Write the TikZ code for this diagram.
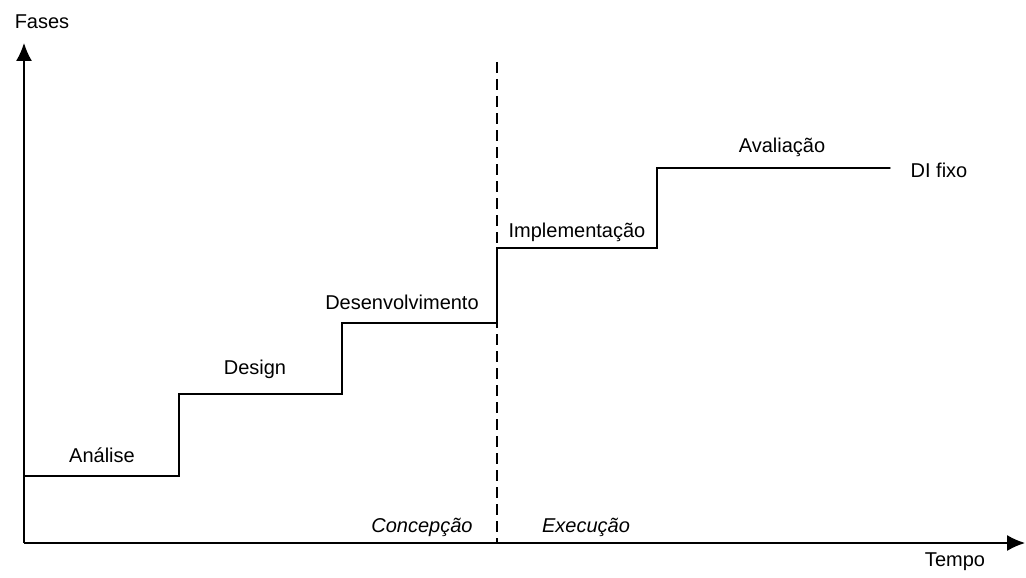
\documentclass[tikz,border=0pt]{standalone}
\usepackage{fontspec}
\setmainfont{Liberation Sans}
\usepackage{tikz}
\usetikzlibrary{arrows.meta}
\tikzstyle{Axis}=[draw=black,line width=1.4pt,-{Latex[length=18pt,width=16pt]}]
\tikzstyle{Edge}=[draw=black,line width=1.4pt,line cap=round,line join=miter]
\tikzstyle{Split}=[draw=black,line width=1.3pt,dash pattern=on 11pt off 6pt]
\tikzstyle{Phase}=[font=\fontsize{20}{24}\selectfont,inner sep=0pt]
\tikzstyle{Period}=[font=\fontsize{20}{24}\selectfont\itshape,inner sep=0pt]

\begin{document}
\begin{tikzpicture}[x=1pt,y=-1pt]
        \useasboundingbox (0,0) rectangle (1026,578);
        % axes
        \coordinate(O)at(24,543);
        \coordinate(yTop)at(24,43);
        \coordinate(xEnd)at(1025,543);
        \draw[Axis](O)--(yTop);
        \draw[Axis](O)--(xEnd);
        \node[Phase](fases)at(42,22){Fases};
        \node[Phase](tempo)at(955,562){Tempo};
        % staircase
        \coordinate(s0)at(24,476);
        \coordinate(s1)at(179,476);
        \coordinate(s2)at(179,394);
        \coordinate(s3)at(342,394);
        \coordinate(s4)at(342,323);
        \coordinate(s5)at(497,323);
        \coordinate(s6)at(497,248);
        \coordinate(s7)at(657,248);
        \coordinate(s8)at(657,168);
        \coordinate(s9)at(890,168);
        \draw[Edge](s0)--(s1)--(s2)--(s3)--(s4)--(s5)--(s6)--(s7)--(s8)--(s9);
        \node[Phase](analise)at(102,455){Análise};
        \node[Phase](design)at(255,369){Design};
        \node[Phase](desenv)at(402,302){Desenvolvimento};
        \node[Phase](implem)at(577,232){Implementação};
        \node[Phase](avalia)at(782,147){Avaliação};
        \node[Phase](difixo)at(939,170){DI fixo};
        % concepcao / execucao
        \coordinate(d0)at(497,62);
        \coordinate(d1)at(497,543);
        \draw[Split](d0)--(d1);
        \node[Period](concep)at(422,527){Concepção};
        \node[Period](exec)at(586,527){Execução};
    \end{tikzpicture}
\end{document}
